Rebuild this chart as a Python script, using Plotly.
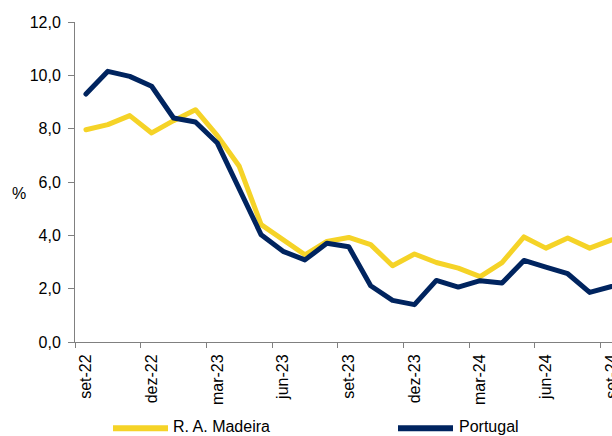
import plotly.graph_objects as go

months = ["set-22", "out-22", "nov-22", "dez-22", "jan-23", "fev-23", "mar-23", "abr-23",
          "mai-23", "jun-23", "jul-23", "ago-23", "set-23", "out-23", "nov-23", "dez-23",
          "jan-24", "fev-24", "mar-24", "abr-24", "mai-24", "jun-24", "jul-24", "ago-24",
          "set-24"]
madeira = [7.96, 8.15, 8.49, 7.84, 8.3, 8.71, 7.74, 6.59, 4.40, 3.83, 3.27, 3.77, 3.92,
           3.65, 2.86, 3.30, 2.98, 2.77, 2.45, 2.98, 3.94, 3.52, 3.90, 3.52, 3.83]
portugal = [9.3, 10.15, 9.96, 9.59, 8.4, 8.25, 7.46, 5.77, 4.02, 3.4, 3.08, 3.7, 3.57,
            2.11, 1.56, 1.4, 2.31, 2.06, 2.3, 2.21, 3.06, 2.81, 2.56, 1.86, 2.08]
y_ticks = [0, 2, 4, 6, 8, 10, 12]
y_ticktext = ["0,0", "2,0", "4,0", "6,0", "8,0", "10,0", "12,0"]

YELLOW = "#F5D327"
NAVY = "#00245F"
AXIS = "#808080"
FONT = "Liberation Sans, Arial, sans-serif"

x = list(range(len(months)))
label_idx = x[::3]

fig = go.Figure()
fig.add_trace(go.Scatter(x=x, y=madeira, mode="lines", name="R. A. Madeira",
                         line=dict(color=YELLOW, width=5), showlegend=False))
fig.add_trace(go.Scatter(x=x, y=portugal, mode="lines", name="Portugal",
                         line=dict(color=NAVY, width=5), showlegend=False))

fig.update_layout(
    width=612, height=436,
    margin=dict(l=75, r=0, t=22, b=94),
    paper_bgcolor="white", plot_bgcolor="white",
    font=dict(family=FONT, size=16, color="#000000"),
    xaxis=dict(
        range=[-0.5, 24.02], automargin=False, ticklabeloverflow="allow",
        tickmode="array", tickvals=label_idx, ticktext=[months[i] for i in label_idx],
        tickangle=-90, ticks="outside", ticklen=5, tickcolor="rgba(0,0,0,0)",
        showline=True, linecolor=AXIS, linewidth=1, showgrid=False, zeroline=False,
        tickfont=dict(size=16),
        minor=dict(tickmode="array", tickvals=[i - 0.5 for i in label_idx],
                   ticks="outside", ticklen=5, tickcolor=AXIS, tickwidth=1, showgrid=False),
    ),
    yaxis=dict(
        range=[0, 12], automargin=False, tickmode="array", tickvals=y_ticks,
        ticktext=y_ticktext,
        ticks="outside", ticklen=6, tickcolor=AXIS, showline=True, linecolor=AXIS,
        linewidth=1, showgrid=False, zeroline=False, tickfont=dict(size=16),
        ticklabelstandoff=4,
    ),
)

# y-axis unit
fig.add_annotation(text="%", xref="paper", yref="paper", x=(19 - 75) / 537, y=(342.2 - 194) / 320,
                   showarrow=False, font=dict(size=16), xanchor="center", yanchor="middle")

# legend drawn below the chart
def px_x(p):
    return (p - 75) / 537

def px_y(p):
    return (342.2 - p) / 320

legend_items = [("R. A. Madeira", YELLOW, 113, 168, 172), ("Portugal", NAVY, 398, 453, 458)]
for name, col, x0, x1, xt in legend_items:
    fig.add_shape(type="line", xref="paper", yref="paper", x0=px_x(x0), x1=px_x(x1),
                  y0=px_y(428.5), y1=px_y(428.5), line=dict(color=col, width=6))
    fig.add_annotation(text=name, xref="paper", yref="paper", x=px_x(xt), y=px_y(426.5),
                       showarrow=False, xanchor="left", yanchor="middle", font=dict(size=16),
                       borderpad=0)

fig.write_html("out.html", config={"displayModeBar": False},
               post_script="document.body.style.margin='0';document.body.style.padding='0';"
                           "document.body.style.overflow='hidden';"
                           "document.querySelectorAll('.scatterlayer path.js-line').forEach(function(p){"
                           "p.style.strokeLinecap='round';p.style.strokeLinejoin='round';});")
